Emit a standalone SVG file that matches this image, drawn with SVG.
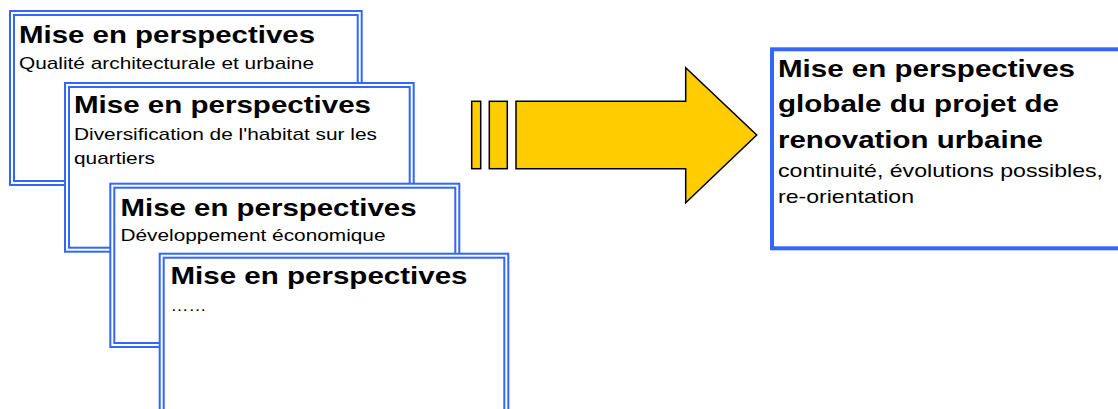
<svg xmlns="http://www.w3.org/2000/svg" width="1118" height="409" viewBox="0 0 1118 409">
<style>
.bg{fill:#ffffff;stroke:none}
.ln{fill:none;stroke:#3366ff;stroke-width:2}
.t{font-family:"Liberation Sans",Arial,sans-serif;font-weight:bold;font-size:24px;fill:#000}
.s{font-family:"Liberation Sans",Arial,sans-serif;font-size:17px;fill:#000}
.s2{font-family:"Liberation Sans",Arial,sans-serif;font-size:18.5px;fill:#000}
.arr{fill:#ffcc00;stroke:#000;stroke-width:1.5;stroke-linejoin:miter}
</style>
<rect x="0" y="0" width="1118" height="409" fill="#ffffff"/>
<g id="box1">
<rect class="bg" x="10" y="11" width="351.7" height="174"/>
<rect class="ln" x="10" y="11" width="351.7" height="174"/>
<rect class="ln" x="14" y="15" width="343.7" height="166"/>
<text class="t" x="19" y="42.5" textLength="296" lengthAdjust="spacingAndGlyphs">Mise en perspectives</text>
<text class="s" x="19" y="69" textLength="295" lengthAdjust="spacingAndGlyphs">Qualité architecturale et urbaine</text>
</g>
<g id="box2">
<rect class="bg" x="65" y="83" width="348.7" height="168.7"/>
<rect class="ln" x="65" y="83" width="348.7" height="168.7"/>
<rect class="ln" x="69" y="87" width="340.7" height="160.7"/>
<text class="t" x="74" y="113.3" textLength="297" lengthAdjust="spacingAndGlyphs">Mise en perspectives</text>
<text class="s" x="74" y="140" textLength="303" lengthAdjust="spacingAndGlyphs">Diversification de l'habitat sur les</text>
<text class="s" x="74" y="164.3" textLength="81" lengthAdjust="spacingAndGlyphs">quartiers</text>
</g>
<g id="box3">
<rect class="bg" x="110.3" y="183.7" width="349" height="163.3"/>
<rect class="ln" x="110.3" y="183.7" width="349" height="163.3"/>
<rect class="ln" x="114.3" y="187.7" width="341" height="155.3"/>
<text class="t" x="120.5" y="216" textLength="296" lengthAdjust="spacingAndGlyphs">Mise en perspectives</text>
<text class="s" x="120.5" y="241" textLength="265" lengthAdjust="spacingAndGlyphs">Développement économique</text>
</g>
<g id="box4">
<rect class="bg" x="159.7" y="253.7" width="348.6" height="200"/>
<rect class="ln" x="159.7" y="253.7" width="348.6" height="200"/>
<rect class="ln" x="163.7" y="257.7" width="340.6" height="200"/>
<text class="t" x="170.5" y="283.5" textLength="297" lengthAdjust="spacingAndGlyphs">Mise en perspectives</text>
<text class="s" x="170.5" y="311" textLength="36" lengthAdjust="spacingAndGlyphs">……</text>
</g>
<g id="connectors">
<rect class="arr" x="471.7" y="101.3" width="9" height="67.4"/>
<rect class="arr" x="489.3" y="101.3" width="18" height="67.4"/>
<polygon class="arr" points="516,101.3 685.7,101.3 685.7,67.7 756.7,135 685.7,202.7 685.7,168.7 516,168.7"/>
</g>
<g id="result">
<rect x="772" y="49.3" width="360" height="199" fill="#ffffff" stroke="#3366ff" stroke-width="4"/>
<text class="t" x="778" y="77" textLength="297" lengthAdjust="spacingAndGlyphs">Mise en perspectives</text>
<text class="t" x="778" y="112" textLength="281" lengthAdjust="spacingAndGlyphs">globale du projet de</text>
<text class="t" x="778" y="148" textLength="265" lengthAdjust="spacingAndGlyphs">renovation urbaine</text>
<text class="s2" x="778" y="176.5" textLength="325" lengthAdjust="spacingAndGlyphs">continuité, évolutions possibles,</text>
<text class="s2" x="778" y="203" textLength="136" lengthAdjust="spacingAndGlyphs">re-orientation</text>
</g>
</svg>
